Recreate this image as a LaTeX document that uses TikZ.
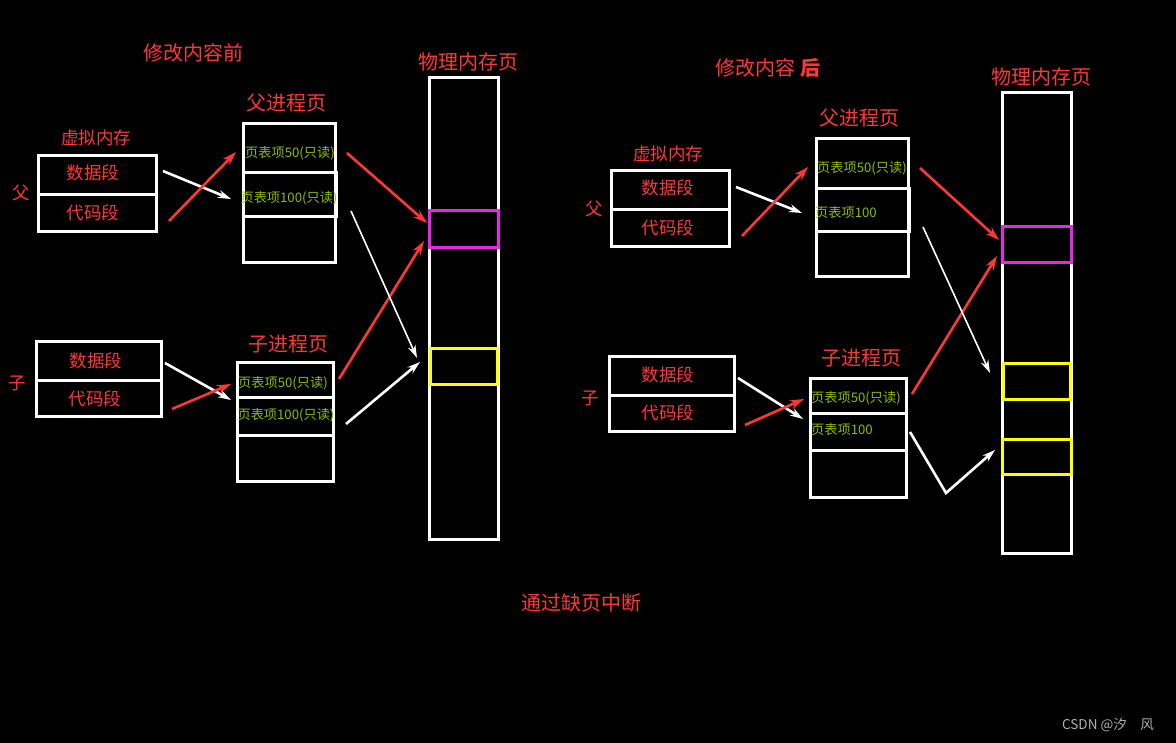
\documentclass[tikz,border=0pt]{standalone}
\usepackage{fontspec}
\newfontfamily\cjk{Noto Sans CJK SC}
\usetikzlibrary{arrows.meta}
\definecolor{hot}{RGB}{255,55,55}
\definecolor{leaf}{RGB}{140,190,0}
\definecolor{pink}{RGB}{230,40,230}
\definecolor{lemon}{RGB}{255,255,0}
\definecolor{mark}{RGB}{175,175,175}
\tikzset{
  box/.style={draw=white,line width=3pt},
  frame/.style={line width=3pt},
  head/.style={text=hot,font=\cjk\fontsize{20}{20}\selectfont},
  seg/.style={text=hot,font=\cjk\fontsize{17.5}{17.5}\selectfont},
  entry/.style={text=leaf,font=\cjk\fontsize{13.2}{13.2}\selectfont,inner sep=0pt},
  redarr/.style={draw=hot,line width=2.6pt,-{Stealth[length=14pt,width=9pt]}},
  whitearr/.style={draw=white,line width=2.6pt,-{Stealth[length=13pt,width=8pt]}},
  thinarr/.style={draw=white,line width=1.6pt,-{Stealth[length=13pt,width=8pt]}},
}
\begin{document}
\begin{tikzpicture}[x=1pt,y=-1pt]
\fill[black] (0,0) rectangle (1176,743);
\useasboundingbox (0,0) rectangle (1176,743);

% ---- before the write ----
\node[head] (before) at (193,53) {修改内容前};
\node[head] (physA) at (468,62) {物理内存页};
\draw[box] (429,78) rectangle (498,539);
\draw[frame,draw=pink] (429,211) rectangle (498,248);
\draw[frame,draw=lemon] (430,349) rectangle (497,385);

\node[seg] (virtA) at (96,138) {虚拟内存};
\draw[box] (38,156) rectangle (156,232);
\draw[box] (38,195) -- (156,195);
\node[seg] (dataA) at (93,173) {数据段};
\node[seg] (codeA) at (93,213) {代码段};
\node[seg] (fatherA) at (21,193) {父};

\node[head] (ptfA) at (286,103) {父进程页};
\draw[box] (243,124) rectangle (335,263);
\draw[box] (243,173) -- (336,173) -- (336,217) -- (243,217);
\node[entry] (fA50) at (290,153) {页表项50(只读)};
\node[entry] (fA100) at (289,198) {页表项100(只读)};

\draw[box] (36,342) rectangle (161,416);
\draw[box] (36,381) -- (162,381);
\node[seg] (dataB) at (96,361) {数据段};
\node[seg] (codeB) at (95,399) {代码段};
\node[seg] (childA) at (17,383) {子};

\node[head] (ptcA) at (288,344) {子进程页};
\draw[box] (237,363) rectangle (333,481);
\draw[box] (237,398) -- (333,398);
\draw[box] (237,435) -- (333,435);
\node[entry] (cA50) at (283,383) {页表项50(只读)};
\node[entry] (cA100) at (286,415) {页表项100(只读)};

\coordinate (a1) at (163,171); \coordinate (a2) at (231,199);
\coordinate (a3) at (169,221); \coordinate (a4) at (236,152);
\coordinate (a5) at (347,153); \coordinate (a6) at (427,223);
\coordinate (a7) at (339,379); \coordinate (a8) at (424,241);
\coordinate (a9) at (351,211); \coordinate (a10) at (417,358);
\coordinate (a11) at (346,424); \coordinate (a12) at (420,362);
\coordinate (a13) at (165,363); \coordinate (a14) at (231,400);
\coordinate (a15) at (172,409); \coordinate (a16) at (231,384);
\draw[whitearr] (a1) -- (a2);
\draw[redarr] (a3) -- (a4);
\draw[redarr] (a5) -- (a6);
\draw[redarr] (a7) -- (a8);
\draw[thinarr] (a9) -- (a10);
\draw[whitearr] (a11) -- (a12);
\draw[whitearr] (a13) -- (a14);
\draw[redarr] (a15) -- (a16);

% ---- after the write ----
\node[head] (after) at (768,68) {修改内容 {\bfseries 后}};
\node[head] (physB) at (1041,77) {物理内存页};
\draw[box] (1002,93) rectangle (1071,553);
\draw[frame,draw=pink] (1002,227) rectangle (1071,263);
\draw[frame,draw=lemon] (1003,364) rectangle (1070,400);
\draw[frame,draw=lemon] (1002,439) rectangle (1071,474);

\node[seg] (virtB) at (668,154) {虚拟内存};
\draw[box] (611,171) rectangle (729,247);
\draw[box] (611,210) -- (729,210);
\node[seg] (dataC) at (668,188) {数据段};
\node[seg] (codeC) at (668,228) {代码段};
\node[seg] (fatherB) at (594,209) {父};

\node[head] (ptfB) at (859,118) {父进程页};
\draw[box] (816,139) rectangle (908,277);
\draw[box] (816,189) -- (909,189) -- (909,232) -- (816,232);
\node[entry] (fB50) at (862,168) {页表项50(只读)};
\node[entry] (fB100) at (846,213) {页表项100};

\draw[box] (609,357) rectangle (734,431);
\draw[box] (609,396) -- (735,396);
\node[seg] (dataD) at (668,375) {数据段};
\node[seg] (codeD) at (668,413) {代码段};
\node[seg] (childB) at (590,398) {子};

\node[head] (ptcB) at (861,358) {子进程页};
\draw[box] (810,379) rectangle (906,497);
\draw[box] (810,413) -- (906,413);
\draw[box] (810,450) -- (906,450);
\node[entry] (cB50) at (856,398) {页表项50(只读)};
\node[entry] (cB100) at (842,430) {页表项100};

\coordinate (b1) at (736,187); \coordinate (b2) at (802,213);
\coordinate (b3) at (742,236); \coordinate (b4) at (808,167);
\coordinate (b5) at (920,168); \coordinate (b6) at (999,240);
\coordinate (b7) at (912,394); \coordinate (b8) at (997,256);
\coordinate (b9) at (923,227); \coordinate (b10) at (990,373);
\coordinate (b11) at (738,378); \coordinate (b12) at (803,419);
\coordinate (b13) at (745,425); \coordinate (b14) at (804,399);
\coordinate (b15) at (910,432); \coordinate (bend) at (946,493);
\coordinate (b16) at (995,450);
\draw[whitearr] (b1) -- (b2);
\draw[redarr] (b3) -- (b4);
\draw[redarr] (b5) -- (b6);
\draw[redarr] (b7) -- (b8);
\draw[thinarr] (b9) -- (b10);
\draw[whitearr] (b11) -- (b12);
\draw[redarr] (b13) -- (b14);
\draw[whitearr] (b15) -- (bend) -- (b16);

\node[head] (fault) at (581,603) {通过缺页中断};
\node[text=mark,font=\cjk\fontsize{13.5}{13.5}\selectfont] (sign) at (1108,725) {CSDN @汐\quad 风};
\end{tikzpicture}
\end{document}
